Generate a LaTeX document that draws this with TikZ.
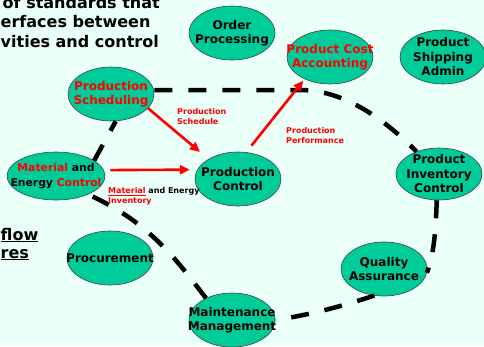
\documentclass[tikz,border=0pt]{standalone}
\usepackage{fontspec}
\setmainfont{DejaVu Sans}
\usetikzlibrary{shapes.geometric,arrows.meta}
\definecolor{bgc}{HTML}{EAFFF8}
\definecolor{ellc}{HTML}{00CC99}
\definecolor{redc}{HTML}{FF0000}
\begin{document}
\begin{tikzpicture}[x=1pt,y=-1pt,
  ell/.style={ellipse,draw=black!75,line width=0.6pt,fill=ellc,minimum width=86pt,minimum height=54pt,inner sep=-40pt,align=center,font=\fontsize{12}{14.5}\selectfont\bfseries},
  loopline/.style={line width=4.5pt,dash pattern=on 18pt off 16pt},
  redarrow/.style={draw=redc,line width=2.6pt,-{Triangle[length=10pt,width=9pt]}},
  lbl/.style={font=\fontsize{8}{10.5}\selectfont\bfseries,text=redc,align=left,inner sep=0pt},
  big/.style={font=\fontsize{16}{20}\selectfont\bfseries,inner sep=0pt}]
\fill[bgc] (0,0) rectangle (484,346);
\useasboundingbox (0,0) rectangle (484,346);
% top-left text
\node[big,anchor=base east] (t1) at (160,8) {of standards that};
\node[big,anchor=base west] (t2) at (0.5,27) {erfaces between};
\node[big,anchor=base west] (t3) at (0.5,47) {vities and control};
\node[big,anchor=base west] (t4) at (0.5,240) {\underline{flow}};
\node[big,anchor=base west] (t5) at (0.5,258) {\underline{res}};
% ellipses
\node[ell] (op) at (232,33) {Order\\Processing};
\node[ell,text=redc] (pca) at (330,57) {Product Cost\\Accounting};
\node[ell] (psa) at (443,57) {Product\\Shipping\\Admin};
\node[ell,text=redc] (ps) at (111,94) {Production\\Scheduling};
\node[ell,minimum width=98pt,minimum height=48pt,font=\fontsize{10.8}{14.5}\selectfont\bfseries] (mec) at (56,176) {\textcolor{redc}{Material} and\\Energy \textcolor{redc}{Control}};
\node[ell] (pc) at (238,179) {Production\\Control};
\node[ell,minimum height=52pt] (pic) at (439,174) {Product\\Inventory\\Control};
\node[ell] (proc) at (110,258) {Procurement};
\node[ell] (mm) at (232,320) {Maintenance\\Management};
\node[ell] (qa) at (384,269) {Quality\\Assurance};
% dashed loop
\draw[loopline] ([yshift=4pt]ps.east) -- (300,90) .. controls (345,90) and (385,120) .. (pic.135);
\draw[loopline] (pic.265) .. controls (436,228) and (434,255) .. (qa.-5);
\draw[loopline] (qa.250) .. controls (345,305) and (315,314) .. (mm.0);
\draw[loopline] (mm.140) .. controls (178,262) and (150,222) .. (mec.-30);
\draw[loopline] (mec.22) -- (ps.-80);
% red arrows
\draw[redarrow,shorten >=11pt] (ps.-21) -- (pc.146);
\draw[redarrow,shorten <=6.6pt,shorten >=7.5pt] (mec.7.2) -- (pc.167.5);
\draw[redarrow,shorten <=8.3pt,shorten >=2pt] (pc.73.6) -- (pca.221);
% labels
\node[lbl,anchor=north west] (lps) at (177,108) {Production\\Schedule};
\node[lbl,anchor=north west] (lpp) at (286,127) {Production\\Performance};
\node[lbl,anchor=north west] (lmi) at (108,187) {\underline{Material} \textcolor{black}{and Energy}\\Inventory};
\end{tikzpicture}
\end{document}
